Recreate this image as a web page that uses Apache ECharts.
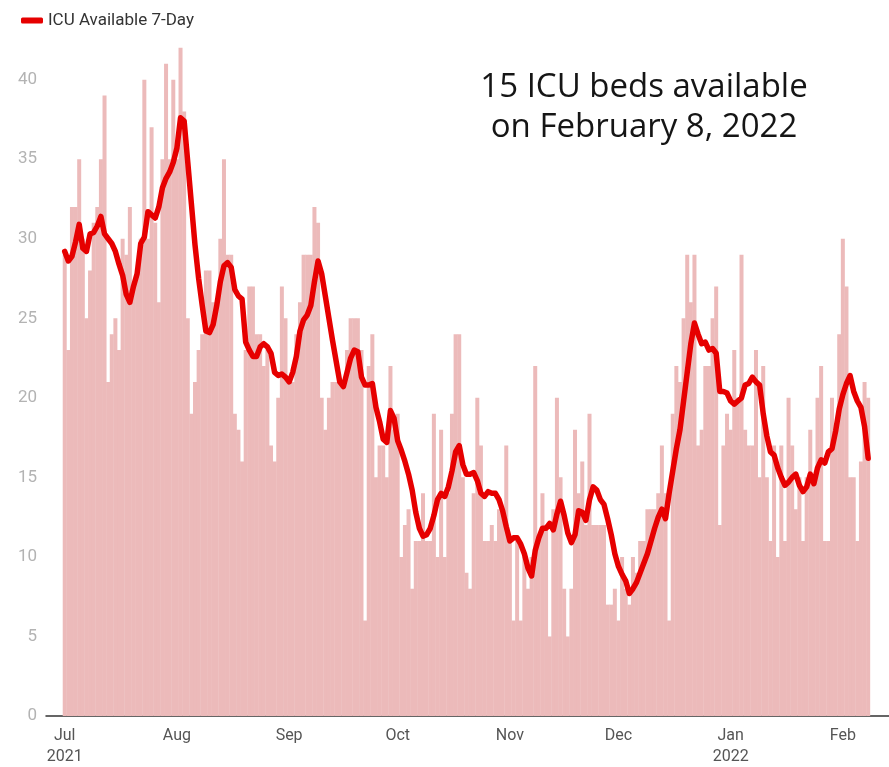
<!DOCTYPE html>
<html>
<head>
<meta charset="utf-8">
<script src="https://cdn.jsdelivr.net/npm/echarts@6/dist/echarts.min.js"></script>
<style>
  html, body { margin: 0; padding: 0; background: #fff; }
  #chart { width: 889px; height: 767px; }
</style>
</head>
<body>
<div id="chart"></div>
<script>
// daily ICU beds available, Jul 1 2021 .. Feb 8 2022 (one array per month)
const barsJul = [29,23,32,32,35,30,25,28,31,32,35,39,21,24,25,23,30,29,32,27,28,30,40,30,37,31,26,35,41,35,40];
const barsAug = [35,42,38,25,19,21,23,24,28,28,26,26,30,35,29,29,19,18,16,23,27,27,24,24,22,23,17,16,20,27,25];
const barsSep = [21,21,24,26,29,29,29,32,31,20,18,20,21,21,21,21,23,25,25,25,23,6,22,24,15,17,17,15,22,18];
const barsOct = [19,10,12,13,8,11,11,14,11,11,19,10,18,10,14,19,24,24,15,9,8,14,20,17,11,11,12,11,13,13,17];
const barsNov = [11,6,11,6,10,8,10,22,11,14,12,5,13,20,15,8,5,8,18,14,16,12,19,12,12,12,12,7,7,8];
const barsDec = [6,10,8,7,10,9,11,11,13,13,13,14,17,14,6,19,22,21,25,29,26,29,17,18,22,22,25,27,12,17,19];
const barsJan = [18,23,20,29,18,17,17,23,15,22,15,11,17,10,17,11,20,17,13,15,11,15,18,15,20,22,11,11,20,18,24];
const barsFeb = [30,27,15,15,11,16,21,20];

// 7-day average line, same days
const avgJul = [29.2,28.6,28.9,29.8,30.9,29.4,29.2,30.3,30.4,30.8,31.4,30.3,30.0,29.7,29.2,28.4,27.7,26.5,26.0,27.0,27.8,29.7,30.1,31.7,31.5,31.3,32.0,33.2,33.8,34.2,34.8];
const avgAug = [35.7,37.6,37.4,34.8,32.2,29.6,27.5,25.8,24.2,24.1,24.6,25.8,27.3,28.3,28.5,28.2,26.8,26.4,26.2,23.5,23.0,22.6,22.6,23.2,23.4,23.2,22.8,21.6,21.4,21.5,21.3];
const avgSep = [21.0,21.6,22.6,24.2,24.9,25.2,25.8,27.3,28.6,27.8,26.4,25.0,23.6,22.3,21.0,20.7,21.6,22.5,23.0,22.9,21.3,20.8,20.8,20.9,19.4,18.5,17.4,17.2,19.2,18.7];
const avgOct = [17.3,16.7,16.0,15.2,14.2,12.8,11.8,11.3,11.4,11.8,12.6,13.6,14.0,13.8,14.4,15.4,16.6,17.0,15.8,15.2,15.2,15.3,14.8,14.0,13.8,14.1,14.0,14.0,13.6,12.9,11.9];
const avgNov = [11.0,11.2,11.2,10.8,10.2,9.3,8.8,10.4,11.2,11.8,11.8,12.1,11.7,12.7,13.5,12.6,11.5,10.9,11.4,12.9,12.8,12.3,13.6,14.4,14.2,13.6,13.3,12.4,11.4,10.2];
const avgDec = [9.4,8.9,8.5,7.7,8.0,8.4,9.0,9.6,10.2,11.0,11.8,12.5,13.0,12.4,14.0,15.4,16.8,18.0,19.8,21.6,23.4,24.7,24.0,23.4,23.5,23.0,23.1,22.8,20.4,20.4,20.3];
const avgJan = [19.8,19.6,19.8,20.0,20.8,20.9,21.3,21.0,20.8,19.0,17.6,16.6,16.4,15.6,15.0,14.5,14.7,15.0,15.2,14.5,14.1,14.4,15.2,14.6,15.6,16.1,15.9,16.6,16.8,17.9,19.3];
const avgFeb = [20.2,20.9,21.4,20.4,19.8,19.4,18.2,16.2];

const monthNames = ['Jan','Feb','Mar','Apr','May','Jun','Jul','Aug','Sep','Oct','Nov','Dec'];
const yTicks = [0,5,10,15,20,25,30,35,40];

const bars = [].concat(barsJul, barsAug, barsSep, barsOct, barsNov, barsDec, barsJan, barsFeb);
const avg = [].concat(avgJul, avgAug, avgSep, avgOct, avgNov, avgDec, avgJan, avgFeb);

const DAY = 86400000;
const start = new Date(2021, 6, 1).getTime();
const days = bars.map((v, i) => new Date(2021, 6, 1 + i).getTime());

let chart = echarts.init(document.getElementById('chart'));
chart.setOption({
  animation: false,
  textStyle: { fontFamily: 'Roboto' },
  legend: {
    data: ['ICU Available 7-Day'],
    left: 16,
    top: 7,
    icon: 'roundRect',
    itemWidth: 22,
    itemHeight: 6,
    itemGap: 10,
    textStyle: { fontSize: 17, color: '#333' }
  },
  grid: { left: 46, right: 0, top: 16, bottom: 47, containLabel: false },
  xAxis: {
    type: 'time',
    min: start - 4.62 * DAY,
    max: start + 227.2 * DAY,
    splitNumber: 8,
    minInterval: 28 * DAY,
    axisLine: { show: true, lineStyle: { color: '#333', width: 1.5 } },
    axisTick: { show: false },
    splitLine: { show: false },
    axisLabel: {
      color: '#555',
      fontSize: 16,
      lineHeight: 21,
      margin: 9,
      formatter: function (val) {
        let d = new Date(val);
        if (d.getDate() !== 1 || d.getHours() !== 0) return '';
        let m = monthNames[d.getMonth()];
        if (d.getMonth() === 0 || (d.getMonth() === 6 && d.getFullYear() === 2021)) {
          return m + '\n' + d.getFullYear();
        }
        return m;
      }
    }
  },
  yAxis: {
    type: 'value',
    min: 0,
    max: 44,
    interval: 5,
    axisLine: { show: false },
    axisTick: { show: false },
    splitLine: { show: false },
    axisLabel: {
      color: '#b3b3b3',
      fontSize: 17,
      margin: 9,
      formatter: function (v) { return yTicks.indexOf(v) >= 0 ? v : ''; }
    }
  },
  graphic: [{
    type: 'text',
    z: 100,
    style: {
      text: '15 ICU beds available\non February 8, 2022',
      x: 644,
      y: 68,
      align: 'center',
      verticalAlign: 'top',
      fontFamily: 'Open Sans',
      fontSize: 33,
      lineHeight: 40,
      fill: '#151515'
    }
  }],
  series: [
    {
      name: 'ICU Available',
      type: 'bar',
      barWidth: 4,
      itemStyle: { color: '#ecbaba' },
      data: days.map((t, i) => [t, bars[i]])
    },
    {
      name: 'ICU Available 7-Day',
      type: 'line',
      showSymbol: false,
      symbol: 'none',
      z: 5,
      itemStyle: { color: '#e60000' },
      lineStyle: { color: '#e60000', width: 5.5, cap: 'round', join: 'round' },
      data: days.map((t, i) => [t, avg[i]])
    }
  ]
});
</script>
</body>
</html>
